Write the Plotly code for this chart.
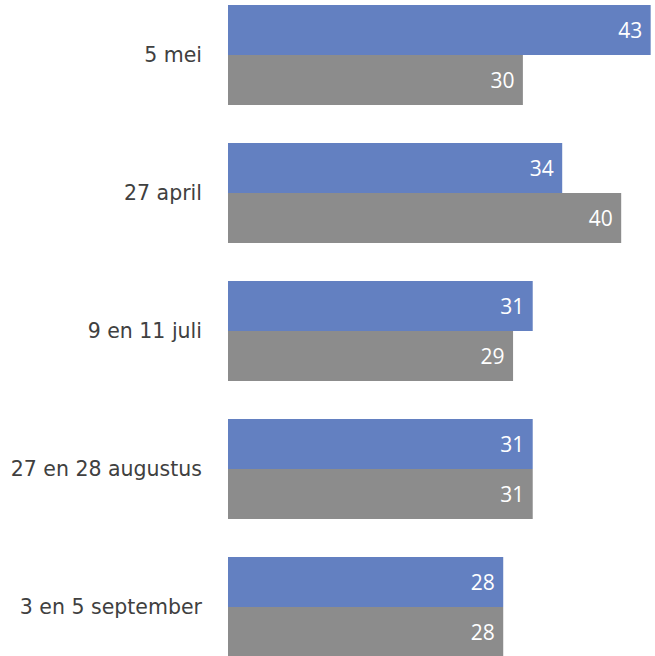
import plotly.graph_objects as go

categories = ["5 mei", "27 april", "9 en 11 juli", "27 en 28 augustus", "3 en 5 september"]
series_blue = [43, 34, 31, 31, 28]
series_gray = [30, 40, 29, 31, 28]

BLUE = "#6380C1"
GRAY = "#8C8C8C"
LABEL_FONT = "DejaVu Sans"
VALUE_FONT = "Open Sans"

fig = go.Figure()
for vals, col in [(series_blue, BLUE), (series_gray, GRAY)]:
    fig.add_trace(go.Bar(
        y=categories, x=vals, orientation="h",
        marker=dict(color=col, line=dict(width=0)),
        texttemplate="%{x}\u00a0", textposition="inside", insidetextanchor="end",
        textfont=dict(color="white", size=21, family=VALUE_FONT),
        hoverinfo="skip",
    ))

fig.update_layout(
    width=655, height=656,
    margin=dict(l=228, r=0, t=0, b=0),
    barmode="group", bargap=0.2754, bargroupgap=0,
    showlegend=False,
    plot_bgcolor="white", paper_bgcolor="white",
    font=dict(family=LABEL_FONT, color="#333333", size=19),
)
fig.update_xaxes(range=[0, 43.44], visible=False, showgrid=False, zeroline=False)
fig.update_yaxes(range=[4.355, -0.399], showgrid=False, zeroline=False, showline=False,
                 ticks="", ticklabelstandoff=25,
                 tickfont=dict(size=20.5, color="#404040", family=LABEL_FONT))

fig.write_html("out.html", config={"displayModeBar": False},
               post_script="document.body.style.margin='0';document.body.style.padding='0';")
